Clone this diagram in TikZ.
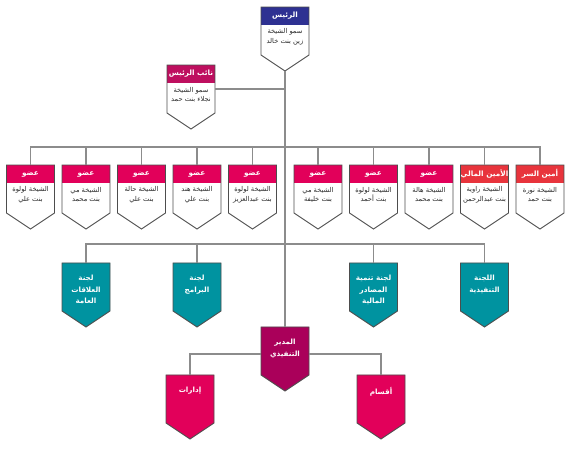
\documentclass[tikz,border=0pt]{standalone}
\usepackage{fontspec}
\newfontfamily\arabicfont[Script=Arabic]{DejaVu Sans}
\TeXXeTstate=1

\definecolor{presblue}{RGB}{46,49,146}
\definecolor{depred}{RGB}{190,15,95}
\definecolor{membpink}{RGB}{226,0,90}
\definecolor{offred}{RGB}{232,52,60}
\definecolor{comteal}{RGB}{0,147,160}
\definecolor{execpurple}{RGB}{170,0,90}
\definecolor{boxgray}{RGB}{77,77,77}
\definecolor{linkgray}{RGB}{140,140,140}
\definecolor{textgray}{RGB}{40,40,40}

\tikzset{
  boxline/.style={draw=boxgray,line width=0.9pt,line join=miter},
  link/.style={draw=linkgray,line width=1.3pt},
  headtext/.style={text=white,inner sep=0pt,font=\arabicfont\bfseries\fontsize{7.3}{8}\selectfont},
  bodytext/.style={text=textgray,inner sep=0pt,align=center,font=\arabicfont\fontsize{6.7}{9.5}\selectfont},
  solidtext/.style={text=white,inner sep=0pt,align=center,font=\arabicfont\bfseries\fontsize{7.2}{11.5}\selectfont},
  % box with coloured title and white body
  pics/headbox/.style n args={3}{code={
    \fill[white] (-24,0) -- (24,0) -- (24,48) -- (0,64) -- (-24,48) -- cycle;
    \fill[#1] (-24,0) rectangle (24,18);
    \draw[boxline] (-24,0) -- (24,0) -- (24,48) -- (0,64) -- (-24,48) -- cycle;
    \node[headtext] (-title) at (0,9) {#2};
    \node[bodytext] (-text) at (0,30) {#3};
    \coordinate (-top) at (0,0);
    \coordinate (-tip) at (0,64);
    \coordinate (-east) at (24,24);
  }},
  % filled box
  pics/solidbox/.style n args={2}{code={
    \draw[boxline,fill=#1] (-24,0) -- (24,0) -- (24,48) -- (0,64) -- (-24,48) -- cycle;
    \node[solidtext,anchor=north] (-text) at (0,12) {#2};
    \coordinate (-top) at (0,0);
    \coordinate (-west) at (-24,27);
    \coordinate (-east) at (24,27);
  }}
}

\begin{document}
\begin{tikzpicture}[x=1pt,y=-1pt]
\useasboundingbox (0,0) rectangle (571,449);

% president and deputy
\pic (pres) at (285,7) {headbox={presblue}{\beginR الرئيس\endR}{\beginR سمو الشيخة\endR\\\beginR زين بنت خالد\endR}};
\pic (dep) at (191,65) {headbox={depred}{\beginR نائب الرئيس\endR}{\beginR سمو الشيخة\endR\\\beginR نجلاء بنت حمد\endR}};

% members
\pic (m1) at (30.5,165) {headbox={membpink}{\beginR عضو\endR}{\beginR الشيخة لولوة\endR\\\beginR بنت علي\endR}};
\pic (m2) at (86,165) {headbox={membpink}{\beginR عضو\endR}{\beginR الشيخة مي\endR\\\beginR بنت محمد\endR}};
\pic (m3) at (141.5,165) {headbox={membpink}{\beginR عضو\endR}{\beginR الشيخة حالة\endR\\\beginR بنت علي\endR}};
\pic (m4) at (197,165) {headbox={membpink}{\beginR عضو\endR}{\beginR الشيخة هند\endR\\\beginR بنت علي\endR}};
\pic (m5) at (252.5,165) {headbox={membpink}{\beginR عضو\endR}{\beginR الشيخة لولوة\endR\\\beginR بنت عبدالعزيز\endR}};
\pic (m6) at (318,165) {headbox={membpink}{\beginR عضو\endR}{\beginR الشيخة مي\endR\\\beginR بنت خليفة\endR}};
\pic (m7) at (373.5,165) {headbox={membpink}{\beginR عضو\endR}{\beginR الشيخة لولوة\endR\\\beginR بنت أحمد\endR}};
\pic (m8) at (429,165) {headbox={membpink}{\beginR عضو\endR}{\beginR الشيخة هالة\endR\\\beginR بنت محمد\endR}};
\pic (m9) at (484.5,165) {headbox={offred}{\beginR الأمين المالي\endR}{\beginR الشيخة راوية\endR\\\beginR بنت عبدالرحمن\endR}};
\pic (m10) at (540,165) {headbox={offred}{\beginR أمين السر\endR}{\beginR الشيخة نورة\endR\\\beginR بنت حمد\endR}};

% committees
\pic (c1) at (86,263) {solidbox={comteal}{\beginR لجنة\endR\\\beginR العلاقات\endR\\\beginR العامة\endR}};
\pic (c2) at (197,263) {solidbox={comteal}{\beginR لجنة\endR\\\beginR البرامج\endR}};
\pic (c3) at (373.5,263) {solidbox={comteal}{\beginR لجنة تنمية\endR\\\beginR المصادر\endR\\\beginR المالية\endR}};
\pic (c4) at (484.5,263) {solidbox={comteal}{\beginR اللجنة\endR\\\beginR التنفيذية\endR}};

% executive director
\pic (exec) at (285,327) {solidbox={execpurple}{\beginR المدير\endR\\\beginR التنفيذي\endR}};
\pic (d1) at (190,375) {solidbox={membpink}{\beginR إدارات\endR}};
\pic (d2) at (381,375) {solidbox={membpink}{\beginR أقسام\endR}};

% links
\coordinate (mbus) at (285,147);
\coordinate (cbus) at (285,244);
\draw[link] (pres-tip) -- (exec-top);
\draw[link] (dep-east) -- (dep-east -| pres-tip);
\draw[link] (m1-top) |- (mbus) (m2-top) |- (mbus) (m3-top) |- (mbus)
  (m4-top) |- (mbus) (m5-top) |- (mbus) (m6-top) |- (mbus)
  (m7-top) |- (mbus) (m8-top) |- (mbus) (m9-top) |- (mbus) (m10-top) |- (mbus);
\draw[link] (c1-top) |- (cbus) (c2-top) |- (cbus) (c3-top) |- (cbus) (c4-top) |- (cbus);
\draw[link] (d1-top) |- (exec-west) (d2-top) |- (exec-east);

\end{tikzpicture}
\end{document}
